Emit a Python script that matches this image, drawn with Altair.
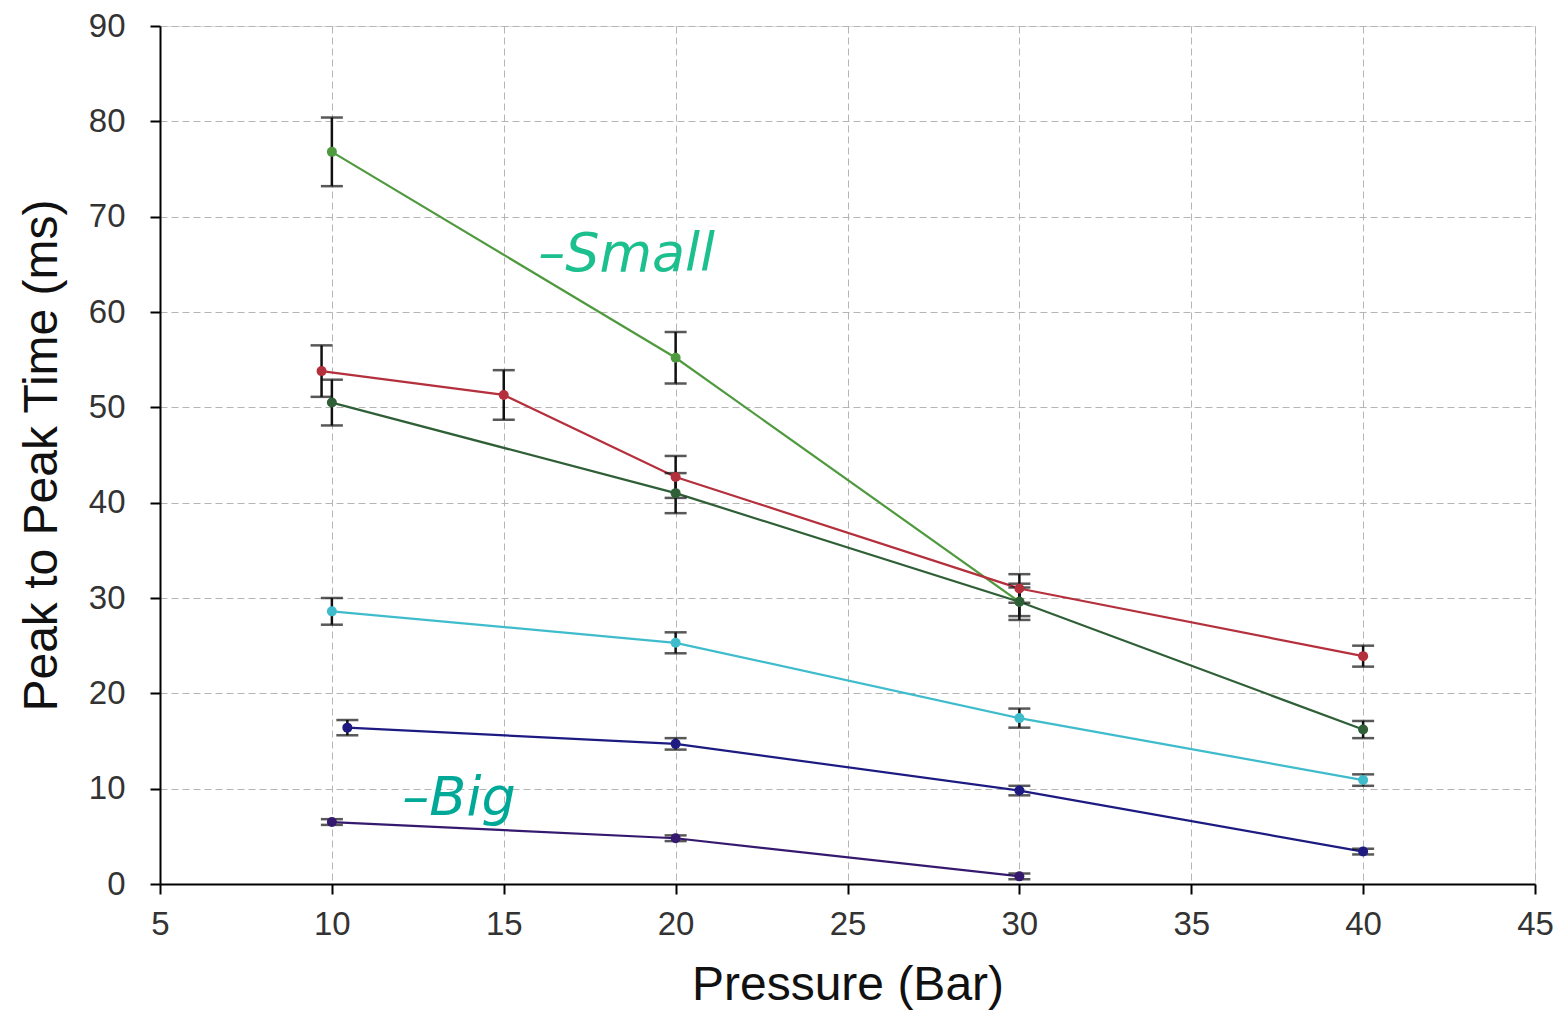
import altair as alt
import pandas as pd

# ---- data ----
names = ["light_green", "red", "dark_green", "cyan", "blue", "purple"]

lg_x = [10, 20, 30]
lg_y = [76.8, 55.2, 29.6]
lg_e = [3.6, 2.7, 1.5]

rd_x = [9.7, 15, 20, 30, 40]
rd_y = [53.8, 51.3, 42.7, 31.0, 23.9]
rd_e = [2.7, 2.6, 2.2, 1.5, 1.1]

dg_x = [10, 20, 30, 40]
dg_y = [50.5, 41.0, 29.6, 16.2]
dg_e = [2.4, 2.1, 1.9, 0.9]

cy_x = [10, 20, 30, 40]
cy_y = [28.6, 25.3, 17.4, 10.9]
cy_e = [1.4, 1.1, 1.0, 0.6]

bl_x = [10.45, 20, 30, 40]
bl_y = [16.4, 14.7, 9.8, 3.4]
bl_e = [0.8, 0.6, 0.5, 0.3]

pu_x = [10, 20, 30]
pu_y = [6.5, 4.8, 0.8]
pu_e = [0.3, 0.3, 0.3]

line_colors = ["#4f9a3e", "#b4303c", "#2f5f36", "#3fbccc", "#1d1a82", "#35196f"]
point_colors = ["#6cc04e", "#c8283c", "#2f6b34", "#40c4d4", "#1f1a90", "#3a1a80"]

ann_text = ["\u2013Small", "\u2013Big"]
ann_x = [16.0, 12.05]
ann_y = [64.3, 7.2]
ann_color = ["#1cbf8e", "#00a997"]

x_ticks = [5, 10, 15, 20, 25, 30, 35, 40, 45]
y_ticks = [0, 10, 20, 30, 40, 50, 60, 70, 80, 90]

# ---- build table ----
rows = []
for name, xs, ys, es in zip(
    names,
    [lg_x, rd_x, dg_x, cy_x, bl_x, pu_x],
    [lg_y, rd_y, dg_y, cy_y, bl_y, pu_y],
    [lg_e, rd_e, dg_e, cy_e, bl_e, pu_e],
):
    for i, (x, y, e) in enumerate(zip(xs, ys, es)):
        rows.append({"series": name, "order": i, "x": x, "y": y, "lo": y - e, "hi": y + e})
df = pd.DataFrame(rows)

ann = pd.DataFrame({"text": ann_text, "x": ann_x, "y": ann_y, "color": ann_color})

xscale = alt.Scale(domain=[5, 45], nice=False, zero=False)
yscale = alt.Scale(domain=[0, 90], nice=False)

xaxis = alt.Axis(
    values=x_ticks, title="Pressure (Bar)", labelFlush=False, labelOverlap=False,
    grid=True, gridDash=[7, 4], gridColor="#b5b5b5", gridWidth=1,
    domainColor="#000", domainWidth=2, tickColor="#000", tickWidth=2, tickSize=10,
    labelFont="Liberation Sans", labelFontSize=33, labelColor="#333", labelPadding=14,
    titleFont="Liberation Sans", titleFontSize=48, titleFontWeight="normal", titleColor="#111",
    titlePadding=20,
)
yaxis = alt.Axis(
    values=y_ticks, title="Peak to Peak Time (ms)", labelFlush=False, labelOverlap=False,
    grid=True, gridDash=[7, 4], gridColor="#b5b5b5", gridWidth=1,
    domainColor="#000", domainWidth=2, tickColor="#000", tickWidth=2, tickSize=10,
    labelFont="Liberation Sans", labelFontSize=33, labelColor="#333", labelPadding=25,
    titleFont="Liberation Sans", titleFontSize=48, titleFontWeight="normal", titleColor="#111",
    titlePadding=22,
)

color = alt.Color("series:N", scale=alt.Scale(domain=names, range=line_colors), legend=None)
pcolor = alt.Color("series:N", scale=alt.Scale(domain=names, range=point_colors), legend=None)

base = alt.Chart(df)

lines = base.mark_line(strokeWidth=2.2).encode(
    x=alt.X("x:Q", scale=xscale, axis=xaxis),
    y=alt.Y("y:Q", scale=yscale, axis=yaxis),
    color=color,
    order="order:Q",
)

err = base.mark_rule(color="#111", strokeWidth=2.5).encode(
    x="x:Q", y="lo:Q", y2="hi:Q"
)
cap_lo = base.mark_tick(color="#111", thickness=2.5, size=22, orient="horizontal").encode(
    x="x:Q", y="lo:Q"
)
cap_hi = base.mark_tick(color="#111", thickness=2.5, size=22, orient="horizontal").encode(
    x="x:Q", y="hi:Q"
)

pts = base.mark_point(filled=True, shape="circle", size=100, opacity=1).encode(
    x="x:Q", y="y:Q", color=pcolor
)

texts = alt.Chart(ann).mark_text(
    align="left", baseline="alphabetic", font="DejaVu Sans", fontStyle="italic", fontSize=54
).encode(
    x=alt.X("x:Q", scale=xscale),
    y=alt.Y("y:Q", scale=yscale),
    text="text:N",
    color=alt.Color("color:N", scale=None),
)

chart = alt.layer(lines, err, cap_lo, cap_hi, pts, texts).properties(
    width=1375, height=858,
    autosize=alt.AutoSizeParams(type="none"),
    padding={"left": 152, "top": 18, "right": 22, "bottom": 130},
).configure_view(stroke=None).configure(background="white")

chart.save("out.html", embed_options={"renderer": "svg", "actions": False})
